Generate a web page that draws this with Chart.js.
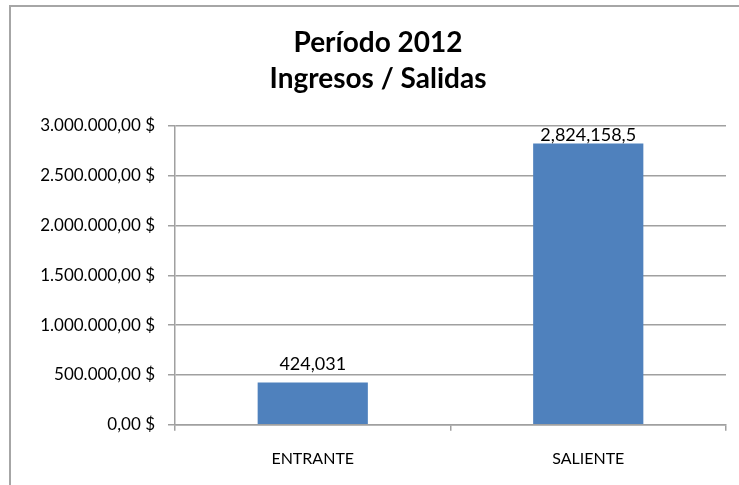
<!DOCTYPE html>
<html>
<head>
<meta charset="utf-8">
<script src="https://cdn.jsdelivr.net/npm/chart.js@4"></script>
<style>
  body { margin: 0; overflow: hidden; background: #fff; }
  #wrap { position: relative; width: 739px; height: 485px; }
  #frame {
    position: absolute; left: 9px; top: 5px; width: 800px; height: 600px;
    border: 2px solid #a6a6a6; pointer-events: none;
  }
</style>
</head>
<body>
<div id="wrap">
  <canvas id="chart" width="739" height="485"></canvas>
  <div id="frame"></div>
</div>
<script>
// data
var categories = ['ENTRANTE', 'SALIENTE'];
var amounts = [424031, 2824158.5];
var valueLabels = ['424,031', '2,824,158,5'];
var titleLines = ['Período 2012', 'Ingresos / Salidas'];
var yMax = 3000000;
var yStep = 500000;

function money(v) {
  var parts = v.toFixed(2).split('.');
  var whole = parts[0].replace(/\B(?=(\d{3})+(?!\d))/g, '.');
  return whole + ',' + parts[1] + ' $';
}

// value labels above the bars, kept inside the plot like excel does
var barLabels = {
  id: 'barLabels',
  afterDatasetsDraw: function(chart) {
    var ctx = chart.ctx;
    var meta = chart.getDatasetMeta(0);
    ctx.save();
    ctx.font = '18px Lato';
    ctx.fillStyle = '#000';
    ctx.textAlign = 'center';
    ctx.textBaseline = 'alphabetic';
    meta.data.forEach(function(bar, i) {
      var y = Math.max(bar.y - 13, chart.chartArea.top + 15);
      ctx.fillText(valueLabels[i], bar.x, y);
    });
    ctx.restore();
  }
};

var gridColor = '#a0a0a0';

new Chart(document.getElementById('chart'), {
  type: 'bar',
  data: {
    labels: categories,
    datasets: [{
      data: amounts,
      backgroundColor: '#4f81bd',
      barPercentage: 0.4,
      categoryPercentage: 1
    }]
  },
  options: {
    responsive: false,
    animation: false,
    layout: { padding: { left: 30, right: 13, top: 0, bottom: -1 } },
    plugins: {
      legend: { display: false },
      tooltip: { enabled: false },
      title: {
        display: true,
        text: titleLines,
        color: '#000',
        font: { family: 'Lato', size: 28, weight: 'bold', lineHeight: 1.32 },
        padding: { top: 24, bottom: 28 }
      }
    },
    scales: {
      x: {
        grid: { offset: true, drawOnChartArea: false, drawTicks: true, tickLength: 6, color: gridColor, lineWidth: 1.5 },
        border: { color: gridColor, width: 1.5 },
        ticks: { color: '#000', font: { family: 'Lato', size: 16 }, padding: 18 }
      },
      y: {
        min: 0,
        max: yMax,
        afterFit: function(scale) { scale.width = 145; },
        grid: { color: gridColor, lineWidth: 1.5, tickLength: 7 },
        border: { color: gridColor, width: 1.5 },
        ticks: {
          stepSize: yStep,
          color: '#000',
          font: { family: 'Lato', size: 17 },
          padding: 13,
          callback: function(v) { return money(v); }
        }
      }
    }
  },
  plugins: [barLabels]
});
</script>
</body>
</html>
